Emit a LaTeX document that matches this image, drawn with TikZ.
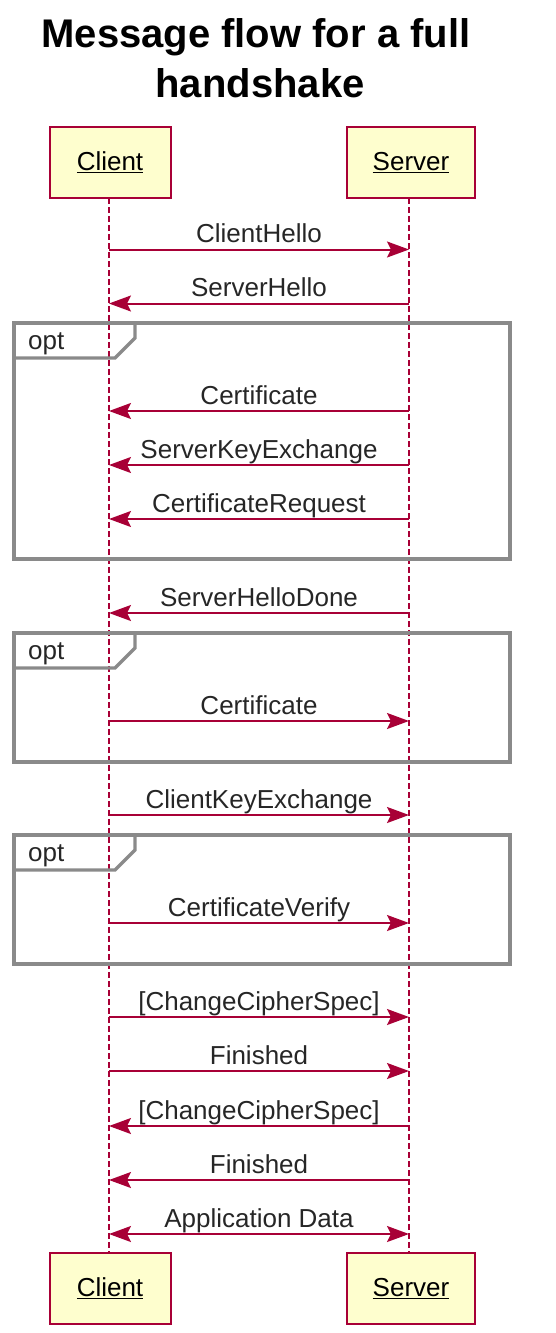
\documentclass[tikz,border=0pt]{standalone}
\usepackage{fontspec}
\setmainfont{Liberation Sans}
\usetikzlibrary{arrows.meta}
\definecolor{plred}{HTML}{A80036}
\definecolor{plfill}{HTML}{FEFECE}
\definecolor{plgray}{HTML}{8A8A8A}
\begin{document}
\begin{tikzpicture}[x=1pt,y=-1pt,
  participant/.style={draw=plred, fill=plfill, line width=2pt, minimum height=71pt,
    inner sep=0pt, font=\fontsize{26}{30}\selectfont},
  lifeline/.style={draw=plred, line width=2pt, dash pattern=on 6pt off 3pt},
  msg/.style={draw=plred, line width=2pt,
    -{Stealth[length=22pt,width=16pt,inset=4pt]}},
  bimsg/.style={draw=plred, line width=2pt,
    {Stealth[length=22pt,width=16pt,inset=4pt]}-{Stealth[length=22pt,width=16pt,inset=4pt]}},
  lbl/.style={midway, anchor=base, yshift=7pt, inner sep=0pt,
    font=\fontsize{26}{30}\selectfont, text=black!85},
  frame/.style={draw=plgray, line width=3.3pt},
  optlbl/.style={anchor=base west, inner sep=0pt, font=\fontsize{26}{30}\selectfont, text=black!85},
  title/.style={align=center, font=\bfseries\fontsize{40}{50}\selectfont, inner sep=0pt}
]
\useasboundingbox (0,0) rectangle (556,1333);

% title
\node[title, anchor=base] (t1) at (256,47) {Message flow for a full};
\node[title, anchor=base] (t2) at (260,97) {handshake};

% participants
\node[participant, minimum width=121pt] (cT) at (110,162.5) {\underline{Client}};
\node[participant, minimum width=128pt] (sT) at (411,162.5) {\underline{Server}};
\node[participant, minimum width=121pt] (cB) at (110,1288.5) {\underline{Client}};
\node[participant, minimum width=128pt] (sB) at (411,1288.5) {\underline{Server}};

% lifelines
\coordinate (cl0) at (109,198);
\coordinate (cl1) at (109,1253);
\coordinate (sl0) at (409,198);
\coordinate (sl1) at (409,1253);
\draw[lifeline] (cl0) -- (cl1);
\draw[lifeline] (sl0) -- (sl1);

% frames
\foreach \n/\top/\bot in {1/323/559, 2/633/762, 3/835/964}{
  \draw[frame] (14,\top) rectangle (510,\bot);
  \draw[frame] (14,\top+35) -- (115,\top+35) -- (135,\top+15) -- (135,\top);
  \node[optlbl] (opt\n) at (28,\top+26) {opt};
}

% message endpoints
\foreach \n/\y in {1/249.5, 2/303.5, 3/411, 4/465, 5/519, 6/613, 7/721, 8/815,
                   9/923, 10/1017, 11/1071, 12/1126, 13/1180, 14/1234}{
  \coordinate (c\n) at (109,\y);
  \coordinate (s\n) at (409,\y);
}

\draw[msg] (c1) -- node[lbl] {ClientHello} (s1);
\draw[msg] (s2) -- node[lbl] {ServerHello} (c2);
\draw[msg] (s3) -- node[lbl] {Certificate} (c3);
\draw[msg] (s4) -- node[lbl] {ServerKeyExchange} (c4);
\draw[msg] (s5) -- node[lbl] {CertificateRequest} (c5);
\draw[msg] (s6) -- node[lbl] {ServerHelloDone} (c6);
\draw[msg] (c7) -- node[lbl] {Certificate} (s7);
\draw[msg] (c8) -- node[lbl] {ClientKeyExchange} (s8);
\draw[msg] (c9) -- node[lbl] {CertificateVerify} (s9);
\draw[msg] (c10) -- node[lbl] {[ChangeCipherSpec]} (s10);
\draw[msg] (c11) -- node[lbl] {Finished} (s11);
\draw[msg] (s12) -- node[lbl] {[ChangeCipherSpec]} (c12);
\draw[msg] (s13) -- node[lbl] {Finished} (c13);
\draw[bimsg] (c14) -- node[lbl] {Application Data} (s14);
\end{tikzpicture}
\end{document}
